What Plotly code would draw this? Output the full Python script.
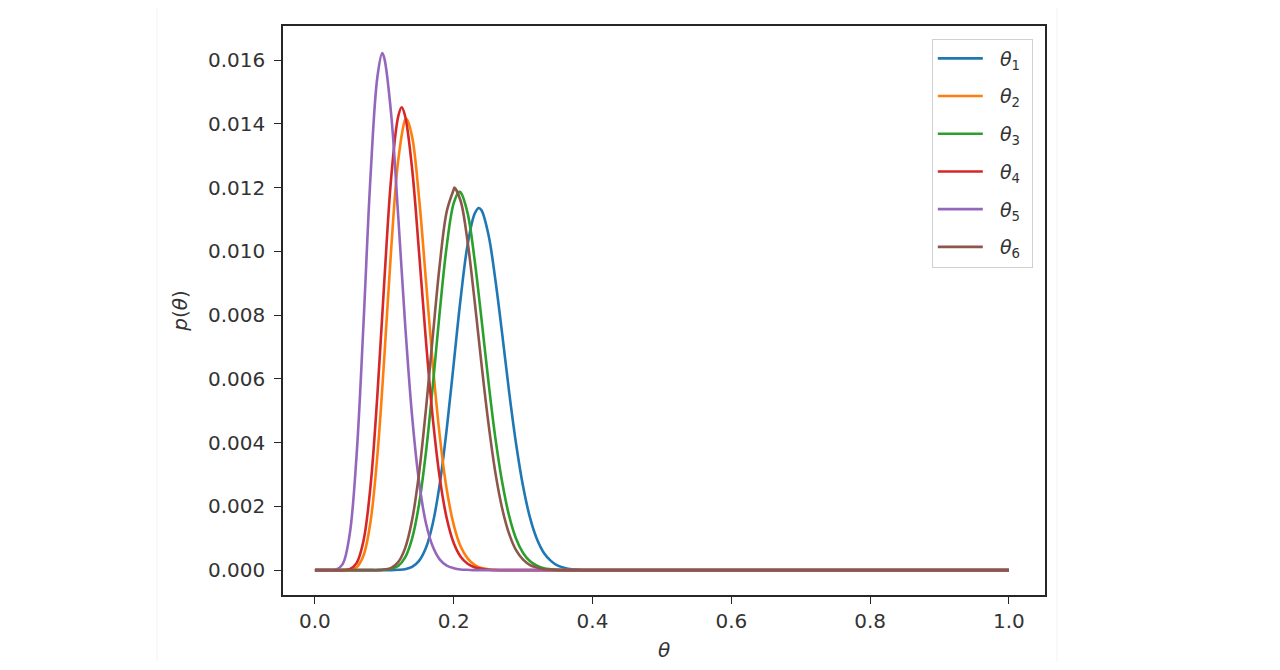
import plotly.graph_objects as go

# grid of theta values (curves are flat zero beyond 0.40)
theta = [0.00, 0.01, 0.02, 0.03, 0.04, 0.05, 0.06, 0.07, 0.08, 0.09,
         0.10, 0.11, 0.12, 0.13, 0.14, 0.15, 0.16, 0.17, 0.18, 0.19,
         0.20, 0.21, 0.22, 0.23, 0.24, 0.25, 0.26, 0.27, 0.28, 0.29,
         0.30, 0.31, 0.32, 0.33, 0.34, 0.35, 0.36, 0.37, 0.38, 0.39,
         0.40, 1.00]

p_theta1 = [0, 0, 0, 0, 0, 0, 0, 0, 0, 0,
            0, 0, 0.00001, 0.00003, 0.00010, 0.00029, 0.00070, 0.00148, 0.00272, 0.00444,
            0.00648, 0.00853, 0.01021, 0.01117, 0.01129, 0.01053, 0.00911, 0.00738, 0.00556, 0.00394,
            0.00262, 0.00164, 0.00097, 0.00054, 0.00029, 0.00014, 0.00007, 0.00003, 0.00001, 0,
            0, 0]
p_theta2 = [0, 0, 0, 0, 0, 0.00001, 0.00009, 0.00046, 0.00150, 0.00360,
            0.00668, 0.01011, 0.01285, 0.01412, 0.01360, 0.01169, 0.00908, 0.00642, 0.00419, 0.00252,
            0.00142, 0.00074, 0.00037, 0.00017, 0.00007, 0.00003, 0.00001, 0, 0, 0,
            0, 0, 0, 0, 0, 0, 0, 0, 0, 0,
            0, 0]
p_theta3 = [0, 0, 0, 0, 0, 0, 0, 0, 0, 0,
            0.00001, 0.00004, 0.00013, 0.00040, 0.00099, 0.00206, 0.00370, 0.00582, 0.00814, 0.01018,
            0.01151, 0.01185, 0.01120, 0.00975, 0.00788, 0.00592, 0.00415, 0.00274, 0.00169, 0.00098,
            0.00054, 0.00028, 0.00014, 0.00006, 0.00003, 0.00001, 0, 0, 0, 0,
            0, 0]
p_theta4 = [0, 0, 0, 0, 0, 0.00003, 0.00022, 0.00092, 0.00261, 0.00549,
            0.00907, 0.01234, 0.01423, 0.01424, 0.01260, 0.00998, 0.00719, 0.00473, 0.00288, 0.00162,
            0.00085, 0.00042, 0.00020, 0.00009, 0.00004, 0.00001, 0, 0, 0, 0,
            0, 0, 0, 0, 0, 0, 0, 0, 0, 0,
            0, 0]
p_theta5 = [0, 0, 0, 0.00001, 0.00019, 0.00111, 0.00359, 0.00773, 0.01231, 0.01547,
            0.01606, 0.01427, 0.01111, 0.00771, 0.00484, 0.00278, 0.00147, 0.00073, 0.00033, 0.00014,
            0.00006, 0.00002, 0.00001, 0, 0, 0, 0, 0, 0, 0,
            0, 0, 0, 0, 0, 0, 0, 0, 0, 0,
            0, 0]
p_theta6 = [0, 0, 0, 0, 0, 0, 0, 0, 0, 0,
            0.00002, 0.00007, 0.00025, 0.00069, 0.00157, 0.00303, 0.00505, 0.00737, 0.00961, 0.01126,
            0.01194, 0.01158, 0.01030, 0.00847, 0.00647, 0.00461, 0.00306, 0.00192, 0.00113, 0.00062,
            0.00033, 0.00016, 0.00008, 0.00003, 0.00001, 0, 0, 0, 0, 0,
            0, 0]

# top of each curve (theta_1 .. theta_6)
peak_theta = [0.236, 0.132, 0.208, 0.125, 0.097, 0.201]
peak_p = [0.01136, 0.01415, 0.01187, 0.01452, 0.01622, 0.01200]

series = [('1', p_theta1), ('2', p_theta2), ('3', p_theta3),
          ('4', p_theta4), ('5', p_theta5), ('6', p_theta6)]
colors = ['#1f77b4', '#ff7f0e', '#2ca02c', '#d62728', '#9467bd', '#8c564b']

x_ticks = [0.0, 0.2, 0.4, 0.6, 0.8, 1.0]
y_ticks = [0.000, 0.002, 0.004, 0.006, 0.008, 0.010, 0.012, 0.014, 0.016]

fig = go.Figure()

for i, ((idx, values), color) in enumerate(zip(series, colors)):
    # add the peak point to the grid samples so the top is drawn at its height
    pts = sorted(list(zip(theta, values)) + [(peak_theta[i], peak_p[i])])
    fig.add_trace(go.Scatter(
        x=[p[0] for p in pts], y=[p[1] for p in pts], mode='lines',
        name='&nbsp;&nbsp;<i>θ</i><sub>' + idx + '</sub>&nbsp;',
        legendgroup='g' + idx,
        line=dict(color=color, width=2.6, shape='spline', smoothing=1.0)))

axis_style = dict(
    showline=True, linecolor='#262626', linewidth=1.5, mirror=True,
    ticks='outside', ticklen=7, tickwidth=1.4, tickcolor='#262626',
    showgrid=False, zeroline=False, automargin=False,
    tickfont=dict(family='DejaVu Sans', size=20, color='#333333'))

fig.update_xaxes(range=[-0.046, 1.052], tickvals=x_ticks, tickformat='.1f',
                 ticklabelstandoff=0,
                 title=dict(text='<i>θ</i>', standoff=13,
                            font=dict(family='DejaVu Sans', size=20, color='#333333')),
                 **axis_style)
fig.update_yaxes(range=[-0.00078, 0.01707], tickvals=y_ticks, tickformat='.3f',
                 ticklabelstandoff=5,
                 title=dict(text='<i>p</i>(<i>θ</i>)', standoff=15,
                            font=dict(family='DejaVu Sans', size=20, color='#333333')),
                 **axis_style)

# faint edges of the original figure canvas
for xpos in [157, 1057]:
    fig.add_shape(type='line', xref='paper', yref='paper',
                  x0=(xpos - 283) / 762, x1=(xpos - 283) / 762, y0=-1, y1=2,
                  line=dict(color='#f2f2f2', width=1), layer='below')

# the page adds an 8px body margin, so the figure is a bit smaller
fig.update_layout(
    width=1264, height=654,
    margin=dict(l=275, r=227, t=18, b=67),
    paper_bgcolor='white', plot_bgcolor='white',
    showlegend=True,
    legend=dict(x=0.984, y=0.978, xanchor='right', yanchor='top',
                bordercolor='#d0d0d0', borderwidth=1, bgcolor='rgba(255,255,255,0.8)',
                font=dict(family='DejaVu Sans', size=19, color='#333333'),
                tracegroupgap=10, itemwidth=45),
)

fig.write_html('out.html')
